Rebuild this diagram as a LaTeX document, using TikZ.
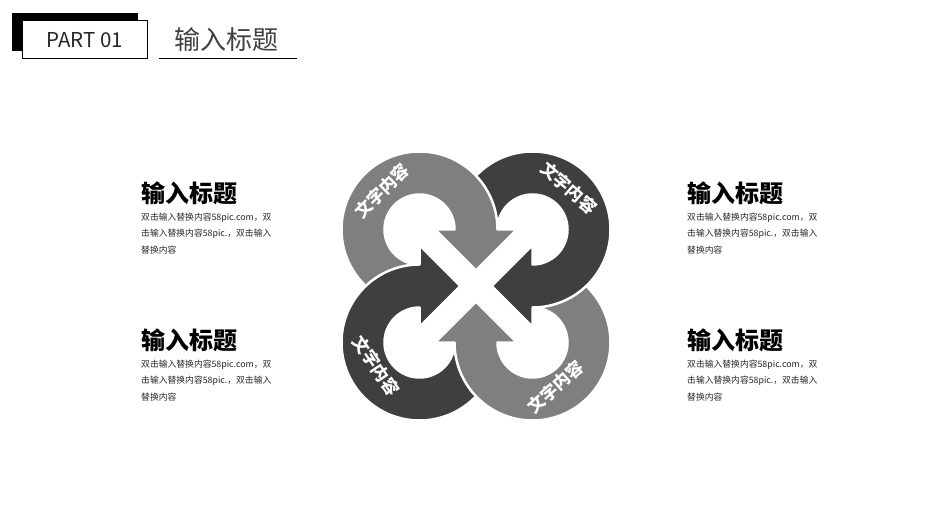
\documentclass[tikz,border=0pt]{standalone}
\usepackage{fontspec}
\newfontfamily\cjk{Noto Sans CJK SC}
\definecolor{lt}{RGB}{127,127,127}
\definecolor{dk}{RGB}{63,63,63}
\definecolor{hd}{RGB}{64,64,64}
\def\ringarrow{(-56.5,-21.5) arc[start angle=270,end angle=0,radius=78] -- (41,56.5) -- (0,15.5) -- (-41,56.5) -- (-21.5,56.5) arc[start angle=0,end angle=270,radius=35] -- cycle}
\tikzset{
  ltarrow/.style={fill=lt, draw=white, line width=2.5pt, line join=round},
  dkarrow/.style={fill=dk, draw=white, line width=2.5pt, line join=round},
  ringtext/.style={text=white, font=\cjk\bfseries\fontsize{17}{17}\selectfont, inner sep=0pt},
  sidetitle/.style={anchor=west, inner sep=0pt, text=black, font=\cjk\bfseries\fontsize{24}{24}\selectfont},
  sidebody/.style={anchor=west, inner sep=0pt, text=black!85, font=\cjk\fontsize{8.8}{8.8}\selectfont},
}
\begin{document}
\begin{tikzpicture}[x=1pt,y=1pt]
\useasboundingbox (0,0) rectangle (945,-529);
\fill[white] (0,0) rectangle (945,-529);

% header
\fill[black] (12,-13) rectangle (138,-51);
\draw[black, fill=white, line width=1pt] (22,-21) rectangle (147,-59);
\node[inner sep=0pt, text=black!85, font=\cjk\fontsize{20.5}{20.5}\selectfont] (part) at (85,-40) {PART 01};
\node[inner sep=0pt, text=hd, font=\cjk\fontsize{26}{26}\selectfont] (htitle) at (226,-40) {输入标题};
\coordinate (ulA) at (159,-59);
\coordinate (ulB) at (297,-59);
\draw[black, line width=1pt] (ulA) -- (ulB);

% central graphic
\begin{scope}[shift={(476,-286)}]
  \begin{scope}[rotate=90] \path[dkarrow] \ringarrow; \end{scope}
  \begin{scope}[rotate=180] \path[ltarrow] \ringarrow; \end{scope}
  \begin{scope}[rotate=-90] \path[dkarrow] \ringarrow; \end{scope}
  \path[ltarrow] \ringarrow;
  \begin{scope}
    \clip (-150,-45) rectangle (-30,50);
    \begin{scope}[rotate=90] \path[dkarrow] \ringarrow; \end{scope}
  \end{scope}
\end{scope}

\node[ringtext, rotate=45] (tTL) at (381.5,-191) {文字内容};
\node[ringtext, rotate=-41] (tTR) at (569,-188) {文字内容};
\node[ringtext, rotate=-56] (tBL) at (376,-366) {文字内容};
\node[ringtext, rotate=42] (tBR) at (555.5,-387) {文字内容};

% left blocks
\node[sidetitle] (L1t) at (141,-193) {输入标题};
\node[sidebody] (L1a) at (141,-218) {双击输入替换内容58pic.com，双};
\node[sidebody] (L1b) at (141,-234) {击输入替换内容58pic.，双击输入};
\node[sidebody] (L1c) at (141,-250) {替换内容};
\node[sidetitle] (L2t) at (141,-340) {输入标题};
\node[sidebody] (L2a) at (141,-365) {双击输入替换内容58pic.com，双};
\node[sidebody] (L2b) at (141,-381) {击输入替换内容58pic.，双击输入};
\node[sidebody] (L2c) at (141,-397) {替换内容};

% right blocks
\node[sidetitle] (R1t) at (687,-193) {输入标题};
\node[sidebody] (R1a) at (687,-218) {双击输入替换内容58pic.com，双};
\node[sidebody] (R1b) at (687,-234) {击输入替换内容58pic.，双击输入};
\node[sidebody] (R1c) at (687,-250) {替换内容};
\node[sidetitle] (R2t) at (687,-340) {输入标题};
\node[sidebody] (R2a) at (687,-365) {双击输入替换内容58pic.com，双};
\node[sidebody] (R2b) at (687,-381) {击输入替换内容58pic.，双击输入};
\node[sidebody] (R2c) at (687,-397) {替换内容};
\end{tikzpicture}
\end{document}
